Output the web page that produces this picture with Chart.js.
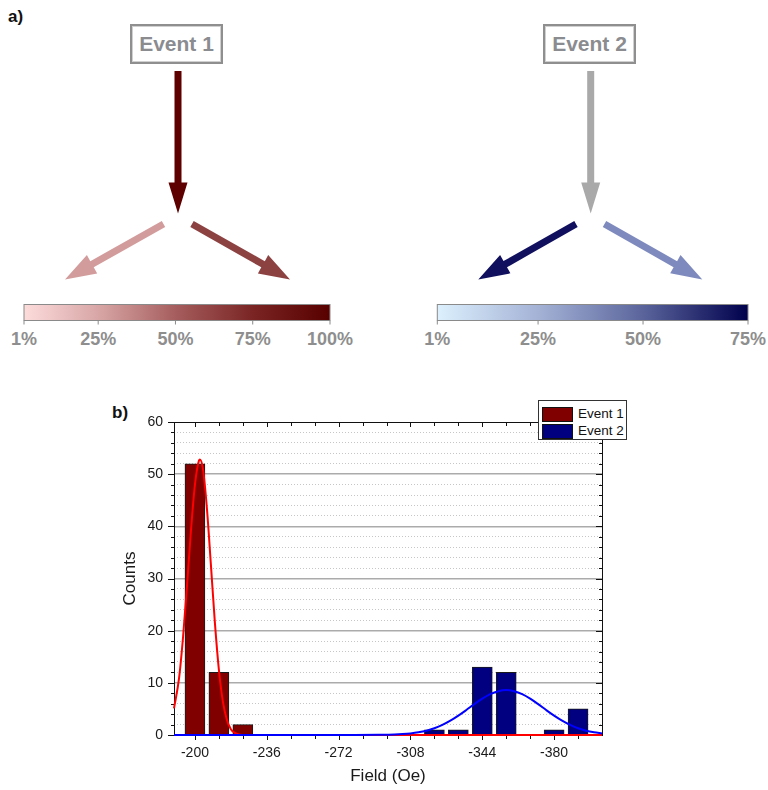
<!DOCTYPE html>
<html>
<head>
<meta charset="utf-8">
<script src="https://cdn.jsdelivr.net/npm/chart.js@4/dist/chart.umd.min.js"></script>
<style>
html,body{margin:0;padding:0;background:#fff;}
body{width:768px;height:790px;position:relative;overflow:hidden;font-family:"Liberation Sans",Arial,sans-serif;}
#diagram{position:absolute;left:0;top:0;}
#chartWrap{position:absolute;left:0;top:385px;width:768px;height:405px;}
#legend{position:absolute;left:538px;top:400px;width:89px;height:40px;border:1px solid #333;background:#fff;z-index:5;box-sizing:border-box;padding:5px 0 0 3px;}
.leg-row{display:flex;align-items:center;height:16px;margin-bottom:1px;}
.leg-sw{width:31px;height:15px;border:1px solid #111;box-sizing:border-box;margin-right:5px;}
.leg-tx{font-size:13.5px;color:#111;line-height:14px;white-space:nowrap;}
.panel{position:absolute;font-weight:bold;font-size:17px;color:#111;}
</style>
</head>
<body>
<svg id="diagram" width="768" height="380" xmlns="http://www.w3.org/2000/svg"></svg>
<div class="panel" style="left:8px;top:7px;">a)</div>
<div class="panel" style="left:112px;top:403px;">b)</div>
<div id="chartWrap"><canvas id="c" width="768" height="405"></canvas></div>
<div id="legend"></div>
<script>
// ---------- data ----------
const seriesNames = ['Event 1', 'Event 2'];
const barField1 = [-200, -212, -224];
const barCounts1 = [52, 12, 2];
const barField2 = [-320, -332, -344, -356, -368, -380, -392];
const barCounts2 = [1, 1, 13, 12, 0, 1, 5];
const fitField1 = [-189.5, -192, -194, -196, -198, -200, -202, -202.5, -204, -206, -208, -210, -212, -214, -216, -218, -220, -222, -226, -260, -300, -340, -380, -404];
const fitCounts1 = [5.1, 10.8, 18.6, 28.5, 39.2, 48.0, 52.6, 52.8, 51.0, 43.4, 32.6, 21.5, 12.5, 6.4, 2.9, 1.1, 0.4, 0.1, 0, 0, 0, 0, 0, 0];
const fitField2 = [-189.5, -240, -280, -292, -300, -304, -308, -312, -316, -320, -324, -328, -332, -336, -340, -344, -348, -352, -356, -360, -364, -368, -372, -376, -380, -384, -388, -392, -396, -400, -404];
const fitCounts2 = [0, 0, 0, 0.03, 0.09, 0.17, 0.30, 0.51, 0.83, 1.30, 1.93, 2.74, 3.71, 4.79, 5.92, 6.97, 7.83, 8.40, 8.62, 8.40, 7.83, 6.97, 5.92, 4.79, 3.71, 2.74, 1.93, 1.30, 0.83, 0.51, 0.30];
const xTickValues = [-200, -212, -224, -236, -248, -260, -272, -284, -296, -308, -320, -332, -344, -356, -368, -380, -392];
const xTickLabels = [-200, -236, -272, -308, -344, -380];
const yTickLabels = [0, 10, 20, 30, 40, 50, 60];
const colorbar1Labels = ['1%', '25%', '50%', '75%', '100%'];
const colorbar1Values = [1, 25, 50, 75, 100];
const colorbar2Labels = ['1%', '25%', '50%', '75%'];
const colorbar2Values = [1, 25, 50, 75];

// ---------- diagram (panel a) ----------
const svg = document.getElementById('diagram');
const NS = 'http://www.w3.org/2000/svg';
function el(tag, attrs, text){
  const e = document.createElementNS(NS, tag);
  for (const k in attrs) e.setAttribute(k, attrs[k]);
  if (text !== undefined) e.textContent = text;
  svg.appendChild(e); return e;
}
function arrow(x1,y1,x2,y2,color,sw=7,hl=30,hw=19){
  const dx=x2-x1, dy=y2-y1, L=Math.hypot(dx,dy), ux=dx/L, uy=dy/L, nx=-uy, ny=ux;
  const bx=x2-ux*hl, by=y2-uy*hl;
  const p=[[x1+nx*sw/2,y1+ny*sw/2],[bx+nx*sw/2,by+ny*sw/2],[bx+nx*hw/2,by+ny*hw/2],[x2,y2],
           [bx-nx*hw/2,by-ny*hw/2],[bx-nx*sw/2,by-ny*sw/2],[x1-nx*sw/2,y1-ny*sw/2]];
  el('polygon',{points:p.map(q=>q[0].toFixed(1)+','+q[1].toFixed(1)).join(' '),fill:color});
}
function eventBox(x,y,w,h,label){
  el('rect',{x:x+1,y:y+1,width:w-2,height:h-2,fill:'#fff',stroke:'#8f8f8f','stroke-width':2});
  el('rect',{x:x+2.5,y:y+2.5,width:w-5,height:h-5,fill:'none',stroke:'#d0d0d0','stroke-width':1});
  el('text',{x:x+w/2,y:y+27,'text-anchor':'middle','font-family':'Liberation Sans, Arial, sans-serif','font-weight':'bold','font-size':21,fill:'#8a8c90'},label);
}
function colorbar(id,x,y,w,h,stops,labels,values,vmin,vmax){
  const defs = el('defs',{});
  const g = document.createElementNS(NS,'linearGradient');
  g.setAttribute('id',id); g.setAttribute('x1','0'); g.setAttribute('x2','1'); g.setAttribute('y1','0'); g.setAttribute('y2','0');
  stops.forEach(s=>{const st=document.createElementNS(NS,'stop'); st.setAttribute('offset',s[0]); st.setAttribute('stop-color',s[1]); g.appendChild(st);});
  defs.appendChild(g);
  el('rect',{x:x,y:y,width:w,height:h,fill:'url(#'+id+')',stroke:'#8a8a8a','stroke-width':1});
  values.forEach((v,i)=>{
    const px = x + (v-vmin)/(vmax-vmin)*w;
    el('line',{x1:px,y1:y+h,x2:px,y2:y+h+4,stroke:'#8a8a8a','stroke-width':1});
    el('text',{x:px,y:y+h+24.5,'text-anchor':'middle','font-family':'Liberation Sans, Arial, sans-serif','font-weight':'bold','font-size':18,fill:'#8e8e8e'},labels[i]);
  });
}
eventBox(130,24,93,40,seriesNames[0]);
eventBox(543,24,93,40,seriesNames[1]);
arrow(178,71,178,213.5,'#5e0000',7,31,19);
arrow(163.5,224,65,279.5,'#d39c9c',7,31,21);
arrow(192,224,290,279.5,'#8d4242',7,31,21);
arrow(590.7,71,590.7,213.5,'#a9a9a9',7,31,19);
arrow(576,224,478.3,279.5,'#10105e',7,31,21);
arrow(604.5,224,702.3,279.5,'#7e8abd',7,31,21);
colorbar('g1',24,304.5,306,16,[[0,'#fddcdc'],[0.25,'#d7a4a4'],[0.5,'#a55c5c'],[0.75,'#7a2424'],[1,'#580000']],colorbar1Labels,colorbar1Values,1,100);
colorbar('g2',437.3,304.5,310.7,16,[[0,'#dcf0fd'],[0.33,'#a3b1d5'],[0.66,'#5b659c'],[1,'#00004c']],colorbar2Labels,colorbar2Values,1,75);

// ---------- legend ----------
const barColors = ['#800000', '#000080'];
const legend = document.getElementById('legend');
seriesNames.forEach((n,i)=>{
  const r=document.createElement('div'); r.className='leg-row';
  r.innerHTML='<div class="leg-sw" style="background:'+barColors[i]+'"></div><div class="leg-tx"></div>';
  r.querySelector('.leg-tx').textContent=n;
  legend.appendChild(r);
});

// ---------- chart (panel b) ----------
Chart.defaults.font.family = '"Liberation Sans", Arial, sans-serif';
Chart.defaults.color = '#1a1a1a';

const framePlugin = {
  id:'frame',
  beforeDatasetsDraw(chart){
    const {ctx, chartArea:{left,right,top,bottom}, scales:{x,y}} = chart;
    ctx.save();
    ctx.strokeStyle='#111'; ctx.lineWidth=1;
    ctx.beginPath();
    x.ticks.forEach(t=>{
      const px=Math.round(x.getPixelForValue(t.value))+0.5;
      const L = xTickLabels.includes(t.value) ? 5 : 4;
      ctx.moveTo(px,bottom); ctx.lineTo(px,bottom+L);
      ctx.moveTo(px,top); ctx.lineTo(px,top+L);
    });
    y.ticks.forEach(t=>{
      const py=Math.round(y.getPixelForValue(t.value))+0.5;
      const L = yTickLabels.includes(t.value) ? 6 : 3;
      ctx.moveTo(left,py); ctx.lineTo(left-L,py);
      ctx.moveTo(right,py); ctx.lineTo(right-L,py);
    });
    ctx.stroke();
    ctx.strokeRect(Math.round(left)+0.5, Math.round(top)+0.5, Math.round(right-left), Math.round(bottom-top));
    ctx.restore();
  }
};

const ctx = document.getElementById('c').getContext('2d');
new Chart(ctx, {
  type:'bar',
  data:{
    datasets:[
      {type:'line', label:seriesNames[1]+' fit', data:fitField2.map((v,i)=>({x:v,y:fitCounts2[i]})), borderColor:'#0000ff', borderWidth:2, pointRadius:0, cubicInterpolationMode:'monotone', order:0, clip:3},
      {type:'line', label:seriesNames[0]+' fit', data:fitField1.map((v,i)=>({x:v,y:fitCounts1[i]})), borderColor:'#ff0000', borderWidth:2, pointRadius:0, cubicInterpolationMode:'monotone', order:1, clip:3},
      {label:seriesNames[0], data:barField1.map((v,i)=>({x:v,y:barCounts1[i]})), backgroundColor:barColors[0], borderColor:'#1a1a1a', borderWidth:1, barThickness:20, grouped:false, order:2},
      {label:seriesNames[1], data:barField2.map((v,i)=>({x:v,y:barCounts2[i]})), backgroundColor:barColors[1], borderColor:'#1a1a1a', borderWidth:1, barThickness:20, grouped:false, order:2}
    ]
  },
  options:{
    responsive:false, animation:false, devicePixelRatio:1,
    layout:{padding:{left:100,right:166,top:37,bottom:0}},
    plugins:{legend:{display:false}, tooltip:{enabled:false}},
    scales:{
      x:{
        type:'linear', reverse:true, min:-404, max:-189.5, offset:false,
        afterBuildTicks:(s)=>{ s.ticks = xTickValues.map(v=>({value:v})); },
        afterFit:(s)=>{ s.height = 55; },
        grid:{display:false, drawTicks:false},
        border:{display:false},
        ticks:{autoSkip:false, maxRotation:0, padding:10, font:{size:14}, color:'#1a1a1a',
          callback:(v)=> xTickLabels.includes(v) ? String(v) : ''},
        title:{display:true, text:'Field (Oe)', font:{size:17}, color:'#1a1a1a', padding:{top:0,bottom:3}}
      },
      y:{
        min:0, max:60,
        afterBuildTicks:(s)=>{ const a=[]; for(let v=0; v<=60; v+=2) a.push({value:v}); s.ticks=a; },
        afterFit:(s)=>{ s.width = 74; },
        grid:{drawTicks:false,
          color:(c)=>{ const v=c.tick?c.tick.value:0; if(v===0||v===60) return 'rgba(0,0,0,0)'; return yTickLabels.includes(v)?'#ababab':'#c6c6c6'; },
          lineWidth:(c)=>{ const v=c.tick?c.tick.value:0; return yTickLabels.includes(v)?1.5:1; }},
        border:{display:false, dash:(c)=>{ if(!c.tick) return []; return yTickLabels.includes(c.tick.value)?[]:[1,2]; }},
        ticks:{autoSkip:false, padding:11, font:{size:14}, color:'#1a1a1a',
          callback:(v)=> yTickLabels.includes(v) ? String(v) : ''},
        title:{display:true, text:'Counts', font:{size:17}, color:'#1a1a1a', padding:{top:20,bottom:0}}
      }
    }
  },
  plugins:[framePlugin]
});
</script>
</body>
</html>
